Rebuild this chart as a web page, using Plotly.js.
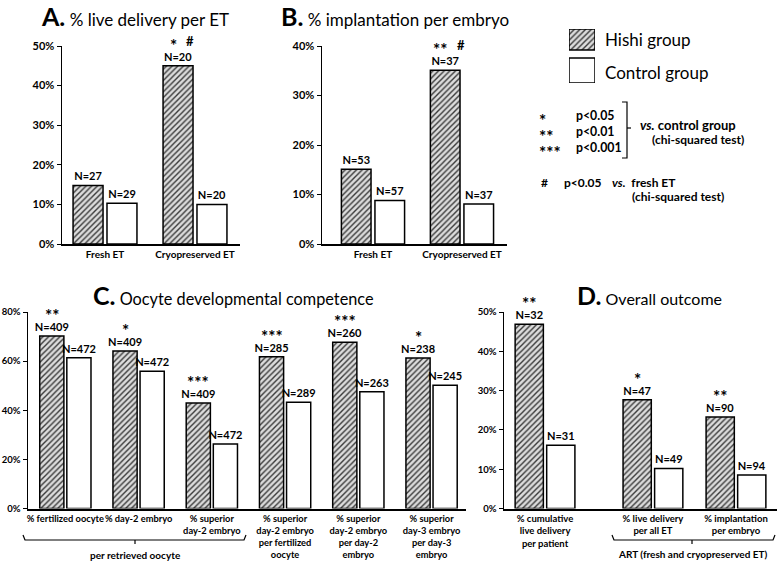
<!DOCTYPE html>
<html>
<head>
<meta charset="utf-8">
<script src="https://cdn.plot.ly/plotly-3.0.1.min.js"></script>
<style>
  body { margin: 0; background: #ffffff; }
  #chart { width: 780px; height: 561px; }
</style>
</head>
<body>
<div id="chart"></div>
<script>
// ---- data ----
// A. % live delivery per ET
var aCats = ['Fresh ET', 'Cryopreserved ET'];
var aHishi = [14.8, 45.0];
var aCtrl = [10.3, 10.0];
var aHishiN = [27, 20];
var aCtrlN = [29, 20];
var aSig = ['', '* #'];

// B. % implantation per embryo
var bCats = ['Fresh ET', 'Cryopreserved ET'];
var bHishi = [15.1, 35.1];
var bCtrl = [8.8, 8.1];
var bHishiN = [53, 37];
var bCtrlN = [57, 37];
var bSig = ['', '** #'];

// C. Oocyte developmental competence
var cCats = ['% fertilized oocyte', '% day-2 embryo', '% superior<br>day-2 embryo',
  '% superior<br>day-2 embryo<br>per fertilized<br>oocyte', '% superior<br>day-2 embryo<br>per day-2<br>embryo',
  '% superior<br>day-3 embryo<br>per day-3<br>embryo'];
var cHishi = [70.2, 64.1, 43.0, 61.8, 67.7, 61.3];
var cCtrl = [61.4, 55.9, 26.3, 43.3, 47.5, 50.2];
var cHishiN = [409, 409, 409, 285, 260, 238];
var cCtrlN = [472, 472, 472, 289, 263, 245];
var cSig = ['**', '*', '***', '***', '***', '*'];

// D. Overall outcome
var dCats = ['% cumulative<br>live delivery<br>per patient', '% live delivery<br>per all ET', '% implantation<br>per embryo'];
var dHishi = [46.9, 27.7, 23.3];
var dCtrl = [16.1, 10.2, 8.5];
var dHishiN = [32, 47, 90];
var dCtrlN = [31, 49, 94];
var dSig = ['**', '*', '**'];

// ---- helpers ----
var W = 780, H = 561;
function px(x) { return x / W; }
function py(y) { return 1 - y / H; }

var FONT = 'Lato, "Open Sans", sans-serif';
var hatch = { shape: '/', fgcolor: '#3a3a3a', bgcolor: '#dcdcdc', size: 4, solidity: 0.35 };

function barPair(cats, hishi, ctrl, hN, cN, xa, ya, w, offH, offC) {
  var common = {
    type: 'bar', xaxis: xa, yaxis: ya, x: cats, width: w,
    textposition: 'outside', cliponaxis: false, constraintext: 'none',
    textfont: { family: FONT, size: 11, color: '#000', weight: 'bold' },
    showlegend: false, hoverinfo: 'skip'
  };
  var t1 = Object.assign({}, common, {
    name: 'Hishi group', y: hishi, offset: offH,
    text: hN.map(function (n) { return 'N=' + n; }),
    marker: { color: '#dcdcdc', pattern: hatch, line: { color: '#000', width: 1.5 } }
  });
  var t2 = Object.assign({}, common, {
    name: 'Control group', y: ctrl, offset: offC,
    text: cN.map(function (n) { return 'N=' + n; }),
    marker: { color: '#ffffff', line: { color: '#000', width: 1.5 } }
  });
  return [t1, t2];
}

// significance marks above the Hishi bars, placed in data coordinates
function sigNotes(pos, hishi, sig, xa, ya, w, offH) {
  var out = [];
  sig.forEach(function (s, i) {
    if (!s) return;
    var stars = s.replace('#', '').trim();
    var hasHash = s.indexOf('#') >= 0;
    var xc = pos[i] + offH + w / 2;
    out.push({
      text: stars, xref: xa, yref: ya, x: xc, y: hishi[i], xanchor: 'center', yanchor: 'bottom',
      yshift: 8, xshift: hasHash ? -5 : 0, showarrow: false,
      font: { family: FONT, size: 17, color: '#000', weight: 'bold' }
    });
    if (hasHash) {
      out.push({
        text: '#', xref: xa, yref: ya, x: xc, y: hishi[i], xanchor: 'left', yanchor: 'bottom',
        yshift: 15, xshift: stars.length * 4 + 2, showarrow: false,
        font: { family: FONT, size: 13, color: '#000', weight: 'bold' }
      });
    }
  });
  return out;
}

function idx(arr) { return arr.map(function (d, i) { return i; }); }

// panel D categories sit on uneven spacing, so use numeric positions
var dPos = [0, 1.3, 2.3];

var data = [].concat(
  barPair(aCats, aHishi, aCtrl, aHishiN, aCtrlN, 'x', 'y', 0.333, -0.355, 0.022),
  barPair(bCats, bHishi, bCtrl, bHishiN, bCtrlN, 'x2', 'y2', 0.333, -0.355, 0.022),
  barPair(cCats, cHishi, cCtrl, cHishiN, cCtrlN, 'x3', 'y3', 0.33, -0.35, 0.02),
  barPair(dPos, dHishi, dCtrl, dHishiN, dCtrlN, 'x4', 'y4', 0.34, -0.36, 0.02)
);

// legend key boxes on a hidden axis
data.push({
  type: 'bar', xaxis: 'x5', yaxis: 'y5', x: [0.5], y: [21], base: [33], width: [1],
  marker: { color: '#dcdcdc', pattern: hatch, line: { color: '#000', width: 1.5 } },
  cliponaxis: false, showlegend: false, hoverinfo: 'skip'
});
data.push({
  type: 'bar', xaxis: 'x5', yaxis: 'y5', x: [0.5], y: [25], base: [0], width: [1],
  marker: { color: '#ffffff', line: { color: '#000', width: 1.5 } },
  cliponaxis: false, showlegend: false, hoverinfo: 'skip'
});

function yAxis(dom, max, dtick, anchor, size) {
  return {
    domain: dom, range: [0, max], dtick: dtick, ticksuffix: '%', anchor: anchor,
    showgrid: false, zeroline: false, showline: true, linecolor: '#000', linewidth: 1.5,
    ticks: 'outside', ticklen: 4, tickcolor: '#000', fixedrange: true,
    tickfont: { family: FONT, size: size, color: '#000', weight: 'bold' }
  };
}
function xAxis(dom, range, anchor, size) {
  return {
    domain: dom, range: range, anchor: anchor, type: 'category',
    showgrid: false, zeroline: false, showline: true, linecolor: '#000', linewidth: 2,
    ticks: '', tickangle: 0, fixedrange: true,
    tickfont: { family: FONT, size: size, color: '#000', weight: 'bold' }
  };
}

var yA = [py(244), py(46)];
var yC = [py(508.5), py(312)];

var xD = xAxis([px(504), px(777)], [-0.494, 2.794], 'y4', 9.5);
xD.type = 'linear';
xD.tickmode = 'array';
xD.tickvals = dPos;
xD.ticktext = dCats;

function note(text, x, y, size, bold, align) {
  return {
    text: text, xref: 'paper', yref: 'paper', x: px(x), y: py(y),
    xanchor: align || 'left', align: align || 'left', yanchor: 'middle', showarrow: false,
    font: { family: FONT, size: size, color: '#000', weight: bold ? 'bold' : 'normal' }
  };
}

var annotations = [
  note('<b><span style="font-size:25px">A.</span></b> % live delivery per ET', 135, 16, 17, false, 'center'),
  note('<b><span style="font-size:25px">B.</span></b> % implantation per embryo', 395, 16, 17, false, 'center'),
  note('<b><span style="font-size:25px">C.</span></b> Oocyte developmental competence', 233, 295, 16.3, false, 'center'),
  note('<b><span style="font-size:25px">D.</span></b> Overall outcome', 649, 295, 16, false, 'center'),
  note('Hishi group', 603, 39, 17, false),
  note('Control group', 603, 72, 17, false),
  note('<span style="font-size:17px">*<br>**<br>***</span>', 537, 136, 12.3, true),
  note('p&lt;0.05<br>p&lt;0.01<br>p&lt;0.001', 574, 131, 12.3, true),
  note('<i>vs.</i> control group', 638, 125, 13, true),
  note('(chi-squared test)', 650, 139, 12, true),
  note('#', 539, 182, 12, true),
  note('p&lt;0.05', 562, 182, 12, true),
  note('<i>vs.</i>  fresh ET', 610, 182, 12, true),
  note('(chi-squared test)', 630, 197, 12, true),
  note('per retrieved oocyte', 135, 555, 10, true, 'center'),
  note('ART (fresh and cryopreserved ET)', 692, 554, 10, true, 'center')
].concat(
  sigNotes(idx(aCats), aHishi, aSig, 'x', 'y', 0.333, -0.355),
  sigNotes(idx(bCats), bHishi, bSig, 'x2', 'y2', 0.333, -0.355),
  sigNotes(idx(cCats), cHishi, cSig, 'x3', 'y3', 0.33, -0.35),
  sigNotes(dPos, dHishi, dSig, 'x4', 'y4', 0.34, -0.36)
);

function line(path) {
  return { type: 'path', xref: 'paper', yref: 'paper', path: path, line: { color: '#000', width: 1.2 } };
}
function P(x, y) { return px(x) + ',' + py(y); }

var shapes = [
  // significance bracket
  line('M' + P(622, 102) + ' L' + P(627, 102) + ' L' + P(627, 158) + ' L' + P(622, 158)),
  line('M' + P(627, 128) + ' L' + P(631, 128)),
  // per retrieved oocyte bracket
  line('M' + P(23, 535) + ' L' + P(25, 540) + ' L' + P(244, 540) + ' L' + P(246, 535)),
  line('M' + P(135, 540) + ' L' + P(135, 544)),
  // ART bracket
  line('M' + P(612, 535) + ' L' + P(614, 540) + ' L' + P(773, 540) + ' L' + P(775, 535)),
  line('M' + P(692, 540) + ' L' + P(692, 544))
];

var layout = {
  width: W, height: H,
  margin: { l: 0, r: 0, t: 0, b: 0 },
  barmode: 'overlay',
  paper_bgcolor: '#ffffff', plot_bgcolor: 'rgba(0,0,0,0)',
  font: { family: FONT, color: '#000' },
  showlegend: false,
  xaxis: xAxis([px(62), px(240)], [-0.478, 1.5], 'y', 10),
  yaxis: yAxis(yA, 50, 10, 'x', 11),
  xaxis2: xAxis([px(322), px(507)], [-0.573, 1.506], 'y2', 10),
  yaxis2: yAxis(yA, 40, 10, 'x2', 11),
  xaxis3: xAxis([px(28), px(466)], [-0.51, 5.47], 'y3', 9.3),
  yaxis3: yAxis(yC, 80, 20, 'x3', 9.5),
  xaxis4: xD,
  yaxis4: yAxis(yC, 50, 10, 'x4', 9.5),
  xaxis5: { domain: [px(569), px(595)], range: [0, 1], anchor: 'y5', visible: false, fixedrange: true },
  yaxis5: { domain: [py(83), py(29)], range: [0, 54], anchor: 'x5', visible: false, fixedrange: true },
  annotations: annotations,
  shapes: shapes
};

var config = { staticPlot: true };

Plotly.newPlot('chart', data, layout, config);
</script>
</body>
</html>
